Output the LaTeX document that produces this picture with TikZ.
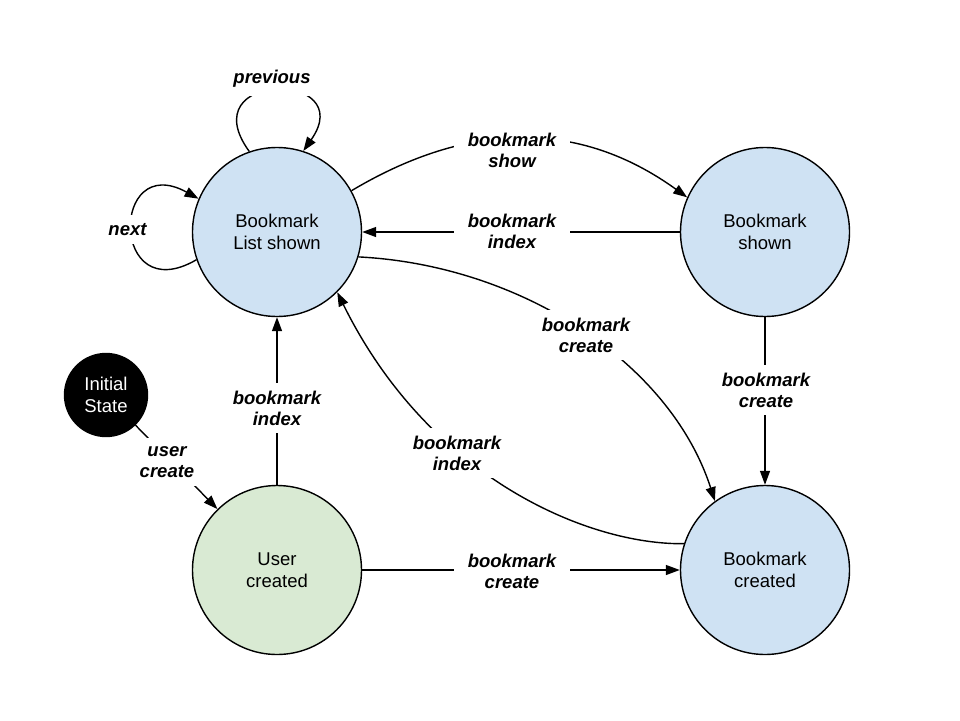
\documentclass[tikz,border=0pt]{standalone}
\usepackage{fontspec}
\setmainfont{Liberation Sans}
\usetikzlibrary{arrows.meta}
\definecolor{stblue}{HTML}{CFE2F3}
\definecolor{stgreen}{HTML}{D9EAD3}
\tikzset{
 state/.style={circle, draw=black, line width=1.4pt, minimum size=169pt, inner sep=0pt, align=center, font=\fontsize{18.5}{21.5}\selectfont},
 bluestate/.style={state, fill=stblue},
 greenstate/.style={state, fill=stgreen},
 initstate/.style={state, fill=black, text=white, minimum size=83pt},
 conn/.style={line width=1.4pt, -{Triangle[length=14pt,width=10pt]}},
 lab/.style={fill=white, align=center, inner xsep=14pt, inner ysep=8pt, font=\fontsize{18.5}{21}\selectfont\bfseries\itshape},
}
\begin{document}
\begin{tikzpicture}[x=1pt,y=-1pt]
\useasboundingbox (0,0) rectangle (960,720);
\node[bluestate] (LS) at (277,232) {Bookmark\\List shown};
\node[bluestate] (BS) at (765,232) {Bookmark\\shown};
\node[bluestate] (BC) at (765,570) {Bookmark\\created};
\node[greenstate] (UC) at (277,570) {User\\created};
\node[initstate] (IS) at (106,395) {Initial\\State};

\draw[conn] (LS.109) .. controls (190,70) and (360,70) .. (LS.72);
\draw[conn] (LS.199) .. controls (110,310) and (110,150) .. (LS.157);
\draw[conn] (LS.29) .. controls (470,120) and (580,120) .. (BS.156);
\draw[conn] (BS) -- (LS);
\draw[conn] (LS.-17) .. controls (520,265) and (670,362) .. (BC.126);
\draw[conn] (BS) -- (BC);
\draw[conn] (BC.162) .. controls (590,545) and (430,480) .. (LS.-45);
\draw[conn] (UC) -- (LS);
\draw[conn] (UC) -- (BC);
\draw[conn] (IS) -- (UC);

\node[lab] (lprev) at (272,79) {previous};
\node[lab] (lnext) at (127.5,229.5) {next};
\node[lab] (lshow) at (512,150) {bookmark\\show};
\node[lab] (lidxa) at (512,231) {bookmark\\index};
\node[lab] (lcra) at (586,335) {bookmark\\create};
\node[lab] (lcrb) at (766,390) {bookmark\\create};
\node[lab] (lidxb) at (457,453) {bookmark\\index};
\node[lab] (lidxc) at (277,408) {bookmark\\index};
\node[lab] (lcrc) at (512,571) {bookmark\\create};
\node[lab] (luser) at (167,462) {user\\create};
\end{tikzpicture}
\end{document}
